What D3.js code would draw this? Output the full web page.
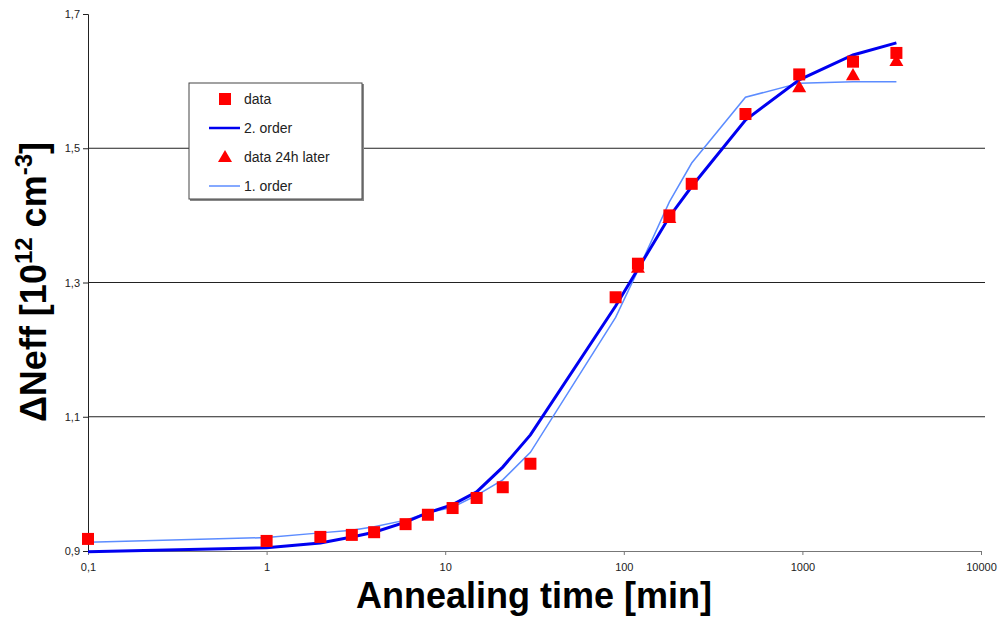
<!DOCTYPE html>
<meta charset="utf-8">
<script src="https://d3js.org/d3.v7.min.js"></script>
<style>
  body { margin: 0; background: #fff; }
  text { font-family: Arial, "Liberation Sans", sans-serif; }
</style>
<div id="chart"></div>
<script>
  // measured data (annealing time in min, ΔNeff in 1e12 cm^-3)
  const dataTime = [0.1, 1, 2, 3, 4, 6, 8, 11, 15, 21, 30, 90, 120, 180, 240, 480, 960, 1920, 3360];
  const dataNeff = [0.918, 0.915, 0.921, 0.924, 0.928, 0.940, 0.954, 0.964, 0.979, 0.995, 1.030,
                    1.278, 1.328, 1.400, 1.447, 1.551, 1.610, 1.629, 1.642];

  const laterTime = [120, 180, 960, 1920, 3360];
  const laterNeff = [1.322, 1.396, 1.591, 1.609, 1.630];

  // fit curves
  const fitTime = [0.1, 1, 2, 3, 4, 6, 8, 11, 15, 21, 30, 90, 120, 180, 240, 480, 960, 1920, 3360];
  const order2 = [0.899, 0.905, 0.912, 0.921, 0.928, 0.943, 0.957, 0.969, 0.988, 1.025, 1.073,
                  1.265, 1.320, 1.398, 1.443, 1.542, 1.602, 1.639, 1.657];
  const order1 = [0.913, 0.920, 0.927, 0.931, 0.936, 0.946, 0.957, 0.965, 0.983, 1.006, 1.047,
                  1.248, 1.318, 1.420, 1.478, 1.576, 1.597, 1.599, 1.599];

  const xTicks = [0.1, 1, 10, 100, 1000, 10000];
  const yTicks = [0.9, 1.1, 1.3, 1.5, 1.7];
  const gridValues = [1.1, 1.3, 1.5];

  const width = 1000, height = 618;
  const plotL = 88, plotR = 981, plotT = 14, plotB = 551;

  const svg = d3.select("#chart").append("svg")
    .attr("width", width)
    .attr("height", height);

  const x = d3.scaleLog().domain([0.1, 10000]).range([plotL, plotR]);
  const y = d3.scaleLinear().domain([0.9, 1.7]).range([plotB, plotT]);
  const comma = d => String(d).replace(".", ",");

  // grid lines
  svg.selectAll(".grid")
    .data(gridValues)
    .join("line")
      .attr("x1", plotL).attr("x2", plotR + 4)
      .attr("y1", d => y(d)).attr("y2", d => y(d))
      .attr("stroke", "#222").attr("stroke-width", 1);

  // y axis
  const yAxis = svg.append("g")
    .attr("transform", `translate(${plotL},0)`)
    .call(d3.axisLeft(y).tickValues(yTicks).tickFormat(comma).tickSize(5).tickPadding(3));
  yAxis.select(".domain").attr("stroke", "#222");
  yAxis.selectAll(".tick line").attr("stroke", "#222");
  yAxis.selectAll("text").attr("font-size", 11).attr("fill", "#222");

  // x axis
  const xAxis = svg.append("g")
    .attr("transform", `translate(0,${plotB})`)
    .call(d3.axisBottom(x).tickValues(xTicks).tickFormat(comma).tickSize(4).tickPadding(8));
  xAxis.select(".domain").attr("stroke", "#777");
  xAxis.selectAll(".tick line").attr("stroke", "#777");
  xAxis.selectAll("text").attr("font-size", 11).attr("fill", "#222");

  // fit lines
  const line = d3.line().x(d => x(d[0])).y(d => y(d[1]));
  svg.append("path")
    .datum(fitTime.map((t, i) => [t, order1[i]]))
    .attr("d", line).attr("fill", "none")
    .attr("stroke", "#5c8cff").attr("stroke-width", 1.5);
  svg.append("path")
    .datum(fitTime.map((t, i) => [t, order2[i]]))
    .attr("d", line).attr("fill", "none")
    .attr("stroke", "#0000f0").attr("stroke-width", 3);

  // markers
  const tri = d3.symbol().type(d3.symbolTriangle).size(85);
  svg.selectAll(".later")
    .data(laterTime.map((t, i) => [t, laterNeff[i]]))
    .join("path")
      .attr("d", tri)
      .attr("transform", d => `translate(${x(d[0])},${y(d[1]) + 1})`)
      .attr("fill", "#ff0000");

  const sq = 12;
  svg.selectAll(".data")
    .data(dataTime.map((t, i) => [t, dataNeff[i]]))
    .join("rect")
      .attr("x", d => x(d[0]) - sq / 2)
      .attr("y", d => y(d[1]) - sq / 2)
      .attr("width", sq).attr("height", sq)
      .attr("fill", "#ff0000");

  // legend
  const lg = svg.append("g").attr("transform", "translate(189,83)");
  lg.append("rect").attr("x", 1).attr("y", 1).attr("width", 174).attr("height", 117).attr("fill", "#888");
  lg.append("rect").attr("width", 173).attr("height", 116)
    .attr("fill", "#fff").attr("stroke", "#444").attr("stroke-width", 1);
  const items = [
    {label: "data", kind: "square"},
    {label: "2. order", kind: "thick"},
    {label: "data 24h later", kind: "tri"},
    {label: "1. order", kind: "thin"}
  ];
  items.forEach((it, i) => {
    const cy = 16 + i * 29;
    const g = lg.append("g").attr("transform", `translate(0,${cy})`);
    if (it.kind === "square") {
      g.append("rect").attr("x", 30).attr("y", -6).attr("width", 12).attr("height", 12).attr("fill", "#ff0000");
    } else if (it.kind === "tri") {
      g.append("path").attr("d", tri).attr("transform", "translate(36,1)").attr("fill", "#ff0000");
    } else {
      g.append("line").attr("x1", 20).attr("x2", 51).attr("y1", 0).attr("y2", 0)
        .attr("stroke", it.kind === "thick" ? "#0000f0" : "#5c8cff")
        .attr("stroke-width", it.kind === "thick" ? 2.5 : 1.5);
    }
    g.append("text").attr("x", 55).attr("y", 5).attr("font-size", 14).attr("fill", "#222").text(it.label);
  });

  // axis titles
  svg.append("text")
    .attr("x", 534).attr("y", 608)
    .attr("text-anchor", "middle")
    .attr("font-size", 36).attr("font-weight", "bold")
    .text("Annealing time [min]");

  const yt = svg.append("text")
    .attr("transform", "translate(46,282) rotate(-90)")
    .attr("text-anchor", "middle")
    .attr("font-size", 36).attr("font-weight", "bold");
  yt.append("tspan").text("ΔNeff [10");
  yt.append("tspan").attr("font-size", 24).attr("dy", -14).text("12");
  yt.append("tspan").attr("dy", 14).text(" cm");
  yt.append("tspan").attr("font-size", 24).attr("dy", -14).text("-3");
  yt.append("tspan").attr("dy", 14).text("]");
</script>
